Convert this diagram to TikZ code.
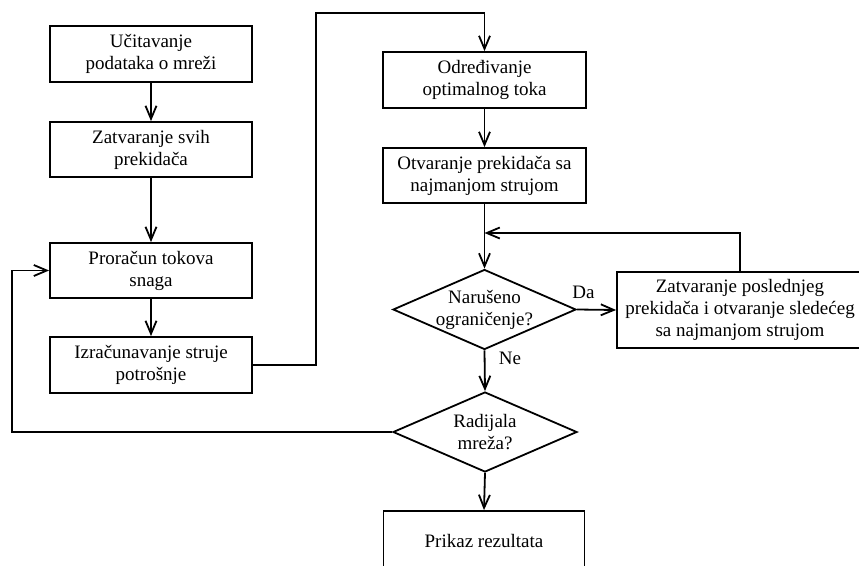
\documentclass[tikz,border=0pt]{standalone}
\usepackage{fontspec}
\setmainfont{Liberation Serif}
\usetikzlibrary{arrows.meta, shapes.geometric}

\begin{document}
\begin{tikzpicture} [x=1pt, y=-1pt, line width=1.8pt, font=\fontsize{19}{22}\selectfont,
  >={Straight Barb[length=13pt, width=11pt]},
  box/.style={draw, align=center, minimum width=202pt, minimum height=56pt, inner sep=2pt},
  dec/.style={draw, diamond, minimum width=183pt, minimum height=80pt, inner sep=0pt}]
\path[use as bounding box] (0,0) rectangle (859,565);
\clip (0,0) rectangle (859,565);
\node[box](load) at (151,54){Učitavanje\\podataka o mreži};
\node[box, minimum height=55pt](close) at (151,149.5){Zatvaranje svih\\prekidača};
\node[box, minimum height=55pt](flow) at (151,270.5){Proračun tokova\\snaga};
\node[box](curr) at (151,365){Izračunavanje struje\\potrošnje};
\node[box, minimum width=203pt](opt) at (484.5,80){Određivanje\\optimalnog toka};
\node[box, minimum width=203pt, minimum height=55pt](open) at (484.5,175.5){Otvaranje prekidača sa\\najmanjom strujom};
\node[dec, label={[align=center]center:Narušeno\\ograničenje?}](viol) at (484.5,309.5){};
\node[box, minimum width=246pt, minimum height=76pt](last) at (740,310){Zatvaranje poslednjeg\\prekidača i otvaranje sledećeg\\sa najmanjom strujom};
\node[dec, minimum width=184pt, label={[align=center]center:Radijala\\mreža?}](rad) at (485,432){};
\node[box, minimum width=201pt, minimum height=60pt](show) at (484,541){Prikaz rezultata};
\coordinate (top) at (316,13);
\coordinate (join) at (484.5,233);
\coordinate (back) at (12,432);
\draw [->] (load) -- (close);
\draw [->] (close) -- (flow);
\draw [->] (flow) -- (curr);
\draw [->] (curr.east) -| (top) -| (opt.north);
\draw [->] (opt) -- (open);
\draw (open.south) -- (join);
\draw [->] (join) -- (viol.north);
\draw [->] (last.north) |- (join);
\draw [->] (viol.east) -- (last.west) node[above=7pt, pos=.17]{Da};
\draw [->] (viol.south) -- (rad.north) node[right=10pt, pos=.2]{Ne};
\draw [->] (rad.south) -- (show.north);
\draw [->] (rad.west) -- (back) |- (flow.west);
\end{tikzpicture}
\end{document}
